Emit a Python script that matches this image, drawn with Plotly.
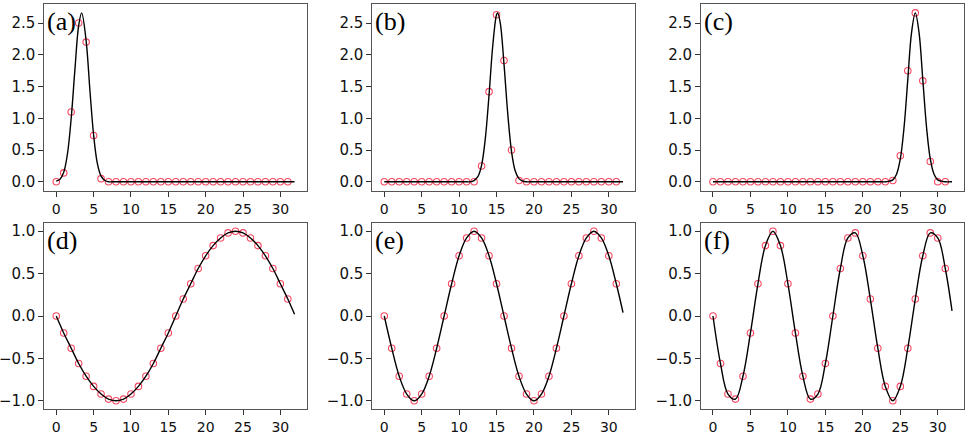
import plotly.graph_objects as go
from plotly.subplots import make_subplots

sample_x = list(range(32))

a_y = [0.0, 0.14, 1.1, 2.5, 2.2, 0.73, 0.05] + [0.0] * 25
b_y = [0.0] * 13 + [0.25, 1.42, 2.63, 1.91, 0.5, 0.02] + [0.0] * 13
c_y = [0.0] * 24 + [0.02, 0.41, 1.75, 2.66, 1.59, 0.32, 0.0, 0.0]

d_y = [0.0, -0.2, -0.38, -0.56, -0.71, -0.83, -0.92, -0.98,
       -1.0, -0.98, -0.92, -0.83, -0.71, -0.56, -0.38, -0.2,
       0.0, 0.2, 0.38, 0.56, 0.71, 0.83, 0.92, 0.98,
       1.0, 0.98, 0.92, 0.83, 0.71, 0.56, 0.38, 0.2]
e_y = [0.0, -0.38, -0.71, -0.92, -1.0, -0.92, -0.71, -0.38,
       0.0, 0.38, 0.71, 0.92, 1.0, 0.92, 0.71, 0.38,
       0.0, -0.38, -0.71, -0.92, -1.0, -0.92, -0.71, -0.38,
       0.0, 0.38, 0.71, 0.92, 1.0, 0.92, 0.71, 0.38]
f_y = [0.0, -0.56, -0.92, -0.98, -0.71, -0.2, 0.38, 0.83,
       1.0, 0.83, 0.38, -0.2, -0.71, -0.98, -0.92, -0.56,
       0.0, 0.56, 0.92, 0.98, 0.71, 0.2, -0.38, -0.83,
       -1.0, -0.83, -0.38, 0.2, 0.71, 0.98, 0.92, 0.56]

# ----- continuous curves (black) ---------------------------------------------
a_cx = [0, 0.5, 1, 1.5, 2, 2.5, 3, 3.4, 4, 4.5, 5, 5.5, 6, 6.5, 7, 7.5, 8, 31.9]
a_cy = [0.01, 0.04, 0.15, 0.44, 1.0, 1.77, 2.46, 2.66, 2.22, 1.45, 0.74,
        0.29, 0.09, 0.02, 0.0, 0.0, 0.0, 0.0]

b_cx = [0, 11, 11.5, 12, 12.5, 13, 13.5, 14, 14.5, 15, 15.15, 15.5, 16,
        16.5, 17, 17.5, 18, 18.5, 19, 19.5, 31.9]
b_cy = [0.0, 0.0, 0.0, 0.02, 0.08, 0.26, 0.68, 1.37, 2.15, 2.63, 2.66,
        2.5, 1.85, 1.07, 0.48, 0.17, 0.05, 0.01, 0.0, 0.0, 0.0]

c_cx = [0, 22.5, 23, 23.5, 24, 24.5, 25, 25.5, 26, 26.5, 27, 27.5, 28,
        28.5, 29, 29.5, 30, 30.5, 31, 31.9]
c_cy = [0.0, 0.0, 0.0, 0.01, 0.03, 0.12, 0.36, 0.86, 1.61, 2.35, 2.66,
        2.35, 1.61, 0.86, 0.36, 0.12, 0.03, 0.01, 0.0, 0.0]

wave_cx = sample_x + [31.9]
d_cy = d_y + [0.02]
e_cy = e_y + [0.04]
f_cy = f_y + [0.06]

panels = [
    ('(a)', a_y, a_cx, a_cy, [-0.14, 2.8], [0.0, 0.5, 1.0, 1.5, 2.0, 2.5]),
    ('(b)', b_y, b_cx, b_cy, [-0.14, 2.8], [0.0, 0.5, 1.0, 1.5, 2.0, 2.5]),
    ('(c)', c_y, c_cx, c_cy, [-0.14, 2.8], [0.0, 0.5, 1.0, 1.5, 2.0, 2.5]),
    ('(d)', d_y, wave_cx, d_cy, [-1.1, 1.1], [-1.0, -0.5, 0.0, 0.5, 1.0]),
    ('(e)', e_y, wave_cx, e_cy, [-1.1, 1.1], [-1.0, -0.5, 0.0, 0.5, 1.0]),
    ('(f)', f_y, wave_cx, f_cy, [-1.1, 1.1], [-1.0, -0.5, 0.0, 0.5, 1.0]),
]
x_ticks = [0, 5, 10, 15, 20, 25, 30]

# pixel boxes of the six axes (969 x 434 figure)
W, H = 969, 434
col_px = [(44.3, 306.5), (372.3, 635.0), (701.0, 964.0)]
row_px = [(4.0, 190.7), (222.7, 409.3)]

fig = make_subplots(rows=2, cols=3)

for i, (label, sy, cx, cy, yr, yt) in enumerate(panels):
    r, c = i // 3 + 1, i % 3 + 1
    fig.add_trace(go.Scatter(
        x=sample_x, y=sy, mode='markers',
        marker=dict(symbol='circle-open', size=6.5,
                    color='rgba(245,40,70,0.85)', line=dict(width=1.1)),
        hoverinfo='skip',
    ), row=r, col=c)
    fig.add_trace(go.Scatter(
        x=cx, y=cy, mode='lines', line_shape='spline',
        line=dict(color='black', width=1.4),
        hoverinfo='skip',
    ), row=r, col=c)

    n = '' if i == 0 else str(i + 1)
    x0, x1 = col_px[c - 1]
    y0, y1 = row_px[r - 1]
    fig.update_layout({
        f'xaxis{n}': dict(
            domain=[x0 / W, x1 / W], range=[-1.6, 33.5],
            tickvals=x_ticks, ticks='outside', ticklen=5,
            tickcolor='#333', showgrid=False, zeroline=False,
            showline=True, mirror=True, linecolor='#555', linewidth=1,
            automargin=False,
            tickfont=dict(family='DejaVu Sans', size=14, color='#111'),
        ),
        f'yaxis{n}': dict(
            domain=[1 - y1 / H, 1 - y0 / H], range=yr,
            tickvals=yt, tickformat='.1f', ticks='outside', ticklen=5,
            tickcolor='#333', showgrid=False, zeroline=False,
            showline=True, mirror=True, linecolor='#555', linewidth=1,
            automargin=False,
            tickfont=dict(family='DejaVu Sans', size=15, color='#111'),
        ),
    })
    fig.add_annotation(
        x=(x0 + 1) / W, y=1 - (y0 + 1) / H, xref='paper', yref='paper',
        text=label, showarrow=False, xanchor='left', yanchor='top',
        font=dict(family='Liberation Serif', size=26, color='black'),
    )

fig.update_layout(
    width=W, height=H,
    margin=dict(l=0, r=0, t=0, b=0),
    paper_bgcolor='white', plot_bgcolor='white',
    showlegend=False,
)
# the page's default 8px body margin would push the figure off the window
fig.write_html('out.html', config={'displayModeBar': False},
               post_script="document.body.style.margin = '0';")
